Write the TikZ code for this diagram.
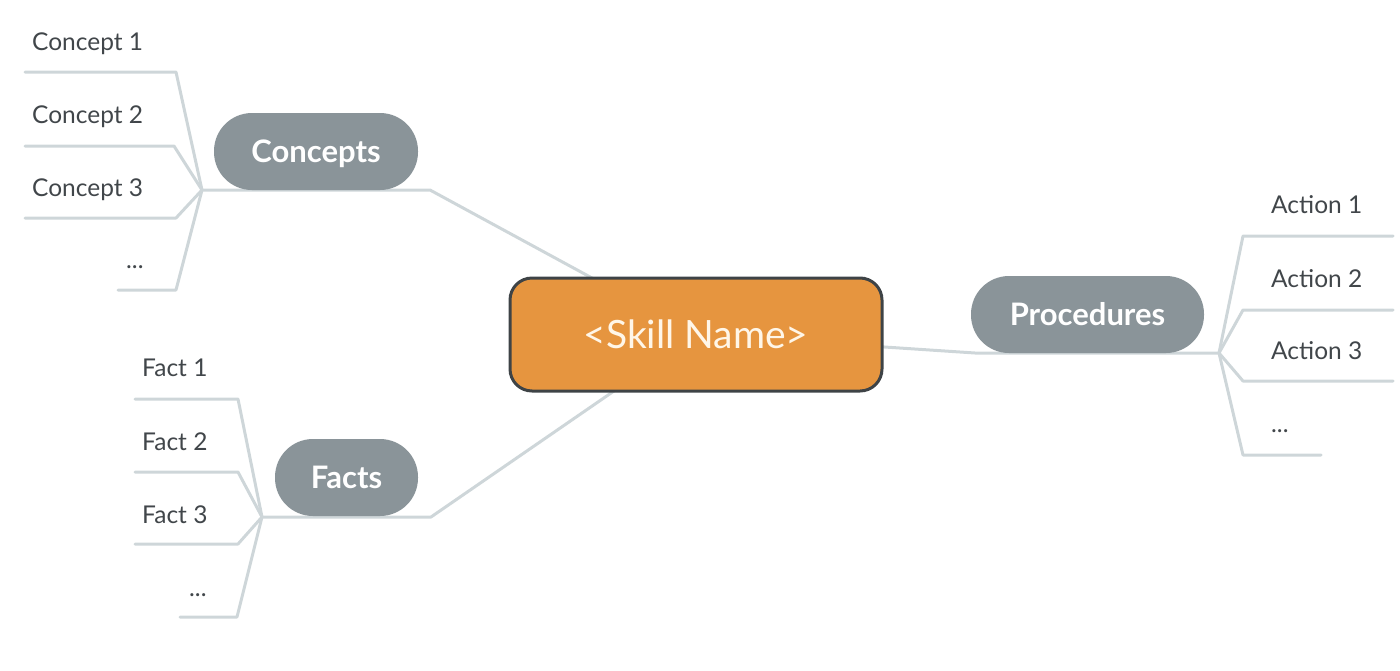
\documentclass[tikz,border=0pt]{standalone}
\usepackage{fontspec}
\setmainfont{Lato}
\definecolor{orangefill}{HTML}{E6953F}
\definecolor{boxborder}{HTML}{3E4346}
\definecolor{pillgray}{HTML}{8A9499}
\definecolor{linegray}{HTML}{CED6D9}
\definecolor{leaftext}{HTML}{41464A}
\definecolor{skilltext}{HTML}{FFF6E8}
\pgfdeclarelayer{bg}
\pgfsetlayers{bg,main}
\begin{document}
\begin{tikzpicture}[x=1pt,y=-1pt,
  link/.style={draw=linegray,line width=3pt,line join=round,line cap=round},
  skillbox/.style={draw=boxborder,line width=3pt,fill=orangefill,rounded corners=22pt,
    minimum width=372pt,minimum height=113pt,inner sep=0pt,text=skilltext,
    font=\fontsize{39}{46}\selectfont,text height=28pt,text depth=0pt},
  pill/.style={fill=pillgray,rounded corners=38pt,minimum height=77pt,inner sep=0pt,
    text=white,font=\fontsize{31}{36}\selectfont\bfseries,text height=22pt,text depth=0pt},
  leaf/.style={anchor=base west,inner sep=0pt,text=leaftext,font=\fontsize{24.5}{29}\selectfont}
]
\useasboundingbox (0,0) rectangle (1400,670);

% central and main nodes
\node[skillbox] (skill) at (696,334.5) {<Skill Name>};
\node[pill,minimum width=204pt] (concepts) at (316,151.5) {Concepts};
\node[pill,minimum width=233pt] (procedures) at (1087.5,314.5) {Procedures};
\node[pill,minimum width=143pt] (facts) at (346.5,477.5) {Facts};

% leaf texts
\node[leaf] (c1) at (32,50) {Concept 1};
\node[leaf] (c2) at (32,123) {Concept 2};
\node[leaf] (c3) at (32,196) {Concept 3};
\node[leaf] (c4) at (126,268) {...};
\node[leaf] (f1) at (142,376) {Fact 1};
\node[leaf] (f2) at (142,450) {Fact 2};
\node[leaf] (f3) at (142,523) {Fact 3};
\node[leaf] (f4) at (189,596) {...};
\node[leaf] (a1) at (1271,213) {Action 1};
\node[leaf] (a2) at (1271,287) {Action 2};
\node[leaf] (a3) at (1271,359) {Action 3};
\node[leaf] (a4) at (1271,432) {...};

% hubs and bends
\coordinate (cpbend) at (430,190);
\coordinate (cphub) at (202,190);
\coordinate (fcbend) at (431,517);
\coordinate (fchub) at (262,517);
\coordinate (prbend) at (975,353);
\coordinate (prhub) at (1219,353);

% leaf underline corners and ends
\coordinate (c1k) at (176,72);  \coordinate (c1e) at (25,72);
\coordinate (c2k) at (174,146); \coordinate (c2e) at (25,146);
\coordinate (c3k) at (176,218); \coordinate (c3e) at (25,218);
\coordinate (c4k) at (176,290); \coordinate (c4e) at (118,290);
\coordinate (f1k) at (238,399); \coordinate (f1e) at (135,399);
\coordinate (f2k) at (238,472); \coordinate (f2e) at (135,472);
\coordinate (f3k) at (238,544); \coordinate (f3e) at (135,544);
\coordinate (f4k) at (237,617); \coordinate (f4e) at (180,617);
\coordinate (a1k) at (1243,236); \coordinate (a1e) at (1393,236);
\coordinate (a2k) at (1243,310); \coordinate (a2e) at (1393,310);
\coordinate (a3k) at (1243,381); \coordinate (a3e) at (1393,381);
\coordinate (a4k) at (1243,455); \coordinate (a4e) at (1321,455);

\begin{pgfonlayer}{bg}
  \path[link] (skill.center) -- (cpbend) -- (cphub);
  \path[link] (skill.center) -- (fcbend) -- (fchub);
  \path[link] (skill.center) -- (prbend) -- (prhub);
  \foreach \k in {c1,c2,c3,c4} { \path[link] (cphub) -- (\k k) -- (\k e); }
  \foreach \k in {f1,f2,f3,f4} { \path[link] (fchub) -- (\k k) -- (\k e); }
  \foreach \k in {a1,a2,a3,a4} { \path[link] (prhub) -- (\k k) -- (\k e); }
\end{pgfonlayer}
\end{tikzpicture}
\end{document}
